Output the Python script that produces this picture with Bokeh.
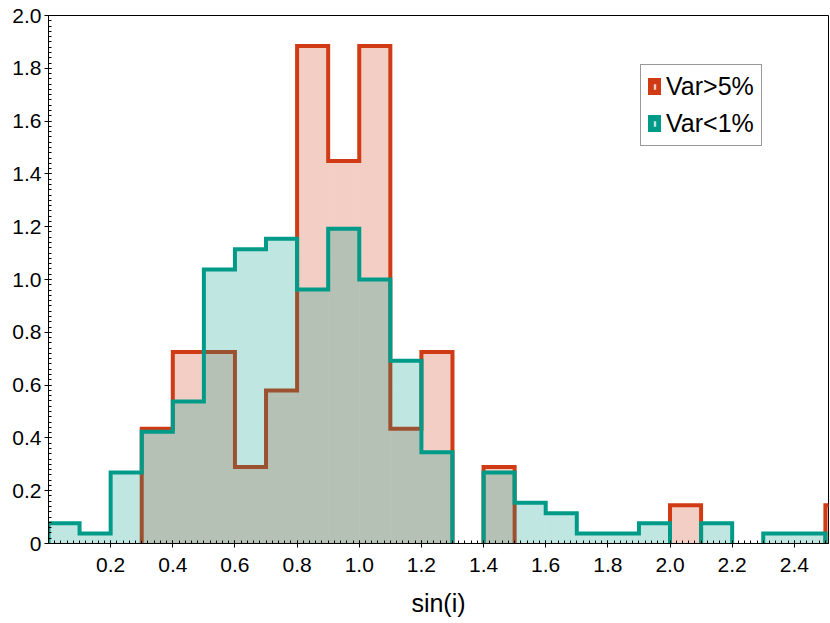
import numpy as np
from bokeh.plotting import figure
from bokeh.models import (Range1d, FixedTicker, NumeralTickFormatter, Legend, LegendItem,
                          ColumnDataSource)
from bokeh.embed import file_html
from bokeh.resources import INLINE

# ---- data (histogram densities, bin width 0.1) ----
bin_edges = [0.0, 0.1, 0.2, 0.3, 0.4, 0.5, 0.6, 0.7, 0.8, 0.9, 1.0, 1.1, 1.2, 1.3,
             1.4, 1.5, 1.6, 1.7, 1.8, 1.9, 2.0, 2.1, 2.2, 2.3, 2.4, 2.5, 2.6]
var_high = [0.0, 0.0, 0.0, 0.435, 0.725, 0.725, 0.290, 0.580, 1.884, 1.449, 1.884, 0.435, 0.725,
            0.0, 0.290, 0.0, 0.0, 0.0, 0.0, 0.0, 0.145, 0.0, 0.0, 0.0, 0.0, 0.145]
var_low = [0.077, 0.038, 0.269, 0.423, 0.538, 1.038, 1.115, 1.154, 0.962, 1.192, 1.000, 0.692, 0.346,
           0.0, 0.269, 0.154, 0.115, 0.038, 0.038, 0.077, 0.0, 0.077, 0.0, 0.038, 0.038, 0.0]
series_labels = ["Var>5%", "Var<1%"]

x_ticks = [0.2, 0.4, 0.6, 0.8, 1.0, 1.2, 1.4, 1.6, 1.8, 2.0, 2.2, 2.4]
x_tick_labels = ["0.2", "0.4", "0.6", "0.8", "1.0", "1.2", "1.4", "1.6", "1.8", "2.0", "2.2", "2.4"]
y_ticks = [0.0, 0.2, 0.4, 0.6, 0.8, 1.0, 1.2, 1.4, 1.6, 1.8, 2.0]
y_tick_labels = ["0", "0.2", "0.4", "0.6", "0.8", "1.0", "1.2", "1.4", "1.6", "1.8", "2.0"]
x_label = "sin(i)"

RED = "#d03a14"
TEAL = "#009b88"
FONT = "Liberation Sans"


def outline(edges, vals):
    xs, ys = [], []
    cx, cy = None, None
    for i, v in enumerate(vals):
        l, r = edges[i], edges[i + 1]
        if v > 0:
            if cx is None:
                cx, cy = [l], [0.0]
            cx += [l, r]
            cy += [v, v]
        elif cx is not None:
            cx.append(l); cy.append(0.0)
            xs.append(cx); ys.append(cy)
            cx = None
    if cx is not None:
        cx.append(edges[len(vals)]); cy.append(0.0)
        xs.append(cx); ys.append(cy)
    return xs, ys


def bars(edges, vals):
    idx = [i for i, v in enumerate(vals) if v > 0]
    return dict(left=[edges[i] for i in idx], right=[edges[i + 1] for i in idx],
                top=[vals[i] for i in idx], bottom=[0.0] * len(idx))


p = figure(width=829, height=620, output_backend="svg", toolbar_location=None,
           x_range=Range1d(0, 2.51), y_range=Range1d(0, 2.0),
           min_border_left=48, min_border_right=1, min_border_top=15, min_border_bottom=77)
p.xgrid.visible = False
p.ygrid.visible = False
p.outline_line_color = "black"
p.outline_line_width = 1
p.outline_line_alpha = 1
p.background_fill_color = "white"
p.border_fill_color = "white"

renderers = {}
for name, vals, col in [("high", var_high, RED), ("low", var_low, TEAL)]:
    src = ColumnDataSource(bars(bin_edges, vals))
    p.quad(left="left", right="right", top="top", bottom="bottom", source=src,
           fill_color=col, fill_alpha=0.25, line_color=None)
    xs, ys = outline(bin_edges, vals)
    p.multi_line(xs=xs, ys=ys, line_color=col, line_width=4, line_join="miter", line_cap="butt")
    # legend-only renderer: muted (fully transparent) on the plot, its normal glyph feeds the legend
    r = p.quad(left="left", right="right", top="top", bottom="bottom", source=src,
               fill_color=col, fill_alpha=0.25, line_color=col, line_width=8, line_join="miter",
               muted_fill_alpha=0.0, muted_line_alpha=0.0)
    r.muted = True
    renderers[name] = r

minor_x = np.round(np.arange(0, 2.52, 0.02), 2).tolist()
minor_y = np.round(np.arange(0, 2.01, 0.02), 2).tolist()

p.xaxis.ticker = FixedTicker(ticks=x_ticks, minor_ticks=minor_x)
p.yaxis.ticker = FixedTicker(ticks=y_ticks, minor_ticks=minor_y)
p.xaxis.formatter = NumeralTickFormatter(format="0.0")
p.yaxis.formatter = NumeralTickFormatter(format="0.0")
p.xaxis.major_label_overrides = dict(zip(x_ticks, x_tick_labels))
p.yaxis.major_label_overrides = dict(zip(y_ticks, y_tick_labels))

for ax in (p.xaxis[0], p.yaxis[0]):
    ax.axis_line_color = "black"
    ax.axis_line_width = 1
    ax.major_tick_line_color = "black"
    ax.minor_tick_line_color = "black"
    ax.major_tick_in = 3
    ax.major_tick_out = 4
    ax.minor_tick_in = 3
    ax.minor_tick_out = 0
    ax.major_label_text_font = FONT
    ax.major_label_text_font_size = "21px"
    ax.major_label_text_color = "black"

p.xaxis.major_label_standoff = 10
p.yaxis.major_label_standoff = 3
p.xaxis.axis_label = x_label
p.xaxis.axis_label_text_font = FONT
p.xaxis.axis_label_text_font_size = "25px"
p.xaxis.axis_label_text_font_style = "normal"
p.xaxis.axis_label_text_color = "black"
p.xaxis.axis_label_standoff = 14

legend = Legend(items=[LegendItem(label=series_labels[0], renderers=[renderers["high"]]),
                       LegendItem(label=series_labels[1], renderers=[renderers["low"]])],
                location=(592, 397), border_line_color="#333333", border_line_width=1,
                background_fill_color="white", background_fill_alpha=1,
                label_text_font=FONT, label_text_font_size="25px", label_text_color="black",
                glyph_width=13, glyph_height=17, label_standoff=5, padding=7, spacing=8, margin=0)
p.add_layout(legend)

open("out.html", "w").write(file_html(p, INLINE))
